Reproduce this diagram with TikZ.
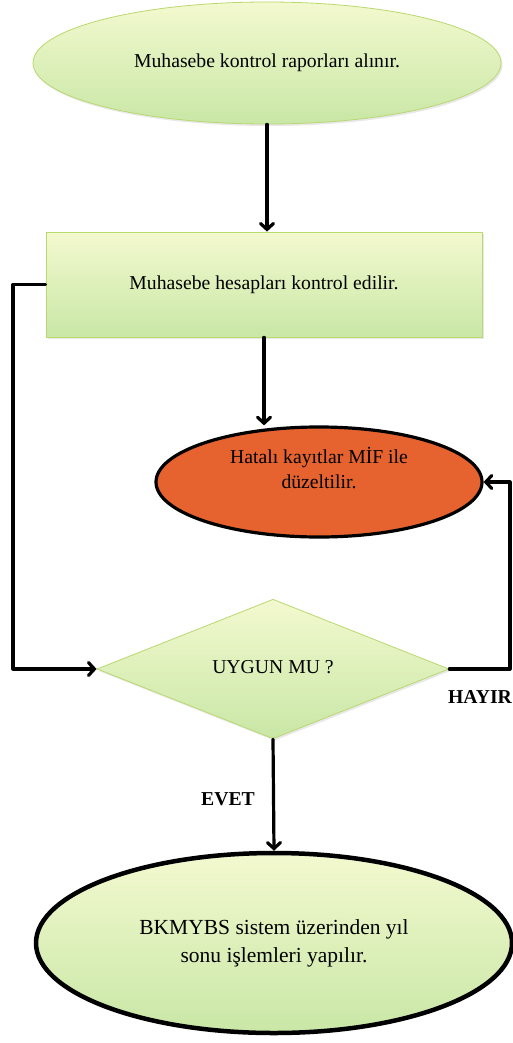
\documentclass[tikz,border=0pt]{standalone}
\usepackage{fontspec}
\setmainfont{Liberation Serif}
\usetikzlibrary{shapes.geometric,arrows.meta,shadows}

\definecolor{paleTop}{HTML}{F3F9CF}
\definecolor{paleBot}{HTML}{C9E7A6}
\definecolor{greenEdge}{HTML}{B9D86E}
\definecolor{fixOrange}{HTML}{E6622F}

\tikzset{
  txt/.style={font=\fontsize{19.7}{25}\selectfont, text=black, align=center, inner sep=0pt},
  bigtxt/.style={font=\fontsize{21.5}{28}\selectfont, text=black, align=center, inner sep=0pt},
  greenfill/.style={top color=paleTop, bottom color=paleBot, draw=greenEdge, line width=0.8pt,
    drop shadow={opacity=0.18, shadow xshift=1.5pt, shadow yshift=-2pt}},
  startnode/.style={ellipse, greenfill, txt, minimum width=468pt, minimum height=122pt},
  procbox/.style={rectangle, greenfill, txt, minimum width=436pt, minimum height=105pt},
  fixnode/.style={ellipse, fill=fixOrange, draw=black, line width=3.2pt, txt,
    minimum width=326pt, minimum height=110pt},
  decnode/.style={diamond, greenfill, txt, minimum width=352pt, minimum height=126pt},
  endnode/.style={ellipse, top color=paleTop, bottom color=paleBot, draw=black, line width=4.5pt,
    bigtxt, minimum width=476pt, minimum height=180pt},
  flow/.style={draw=black, line width=3.2pt, line cap=round, line join=round,
    -{Straight Barb[length=6pt,width=13pt,line cap=round]}},
  answer/.style={font=\fontsize{19.7}{24}\selectfont\bfseries, inner sep=0pt}
}

\begin{document}
\begin{tikzpicture}[x=1pt,y=1pt]
  % page area
  \fill[white] (0,0) rectangle (513,-1043);
  \useasboundingbox (0,0) rectangle (513,-1043);

  % shapes
  \node[startnode] (start) at (267,-63) {Muhasebe kontrol raporları alınır.};
  \node[procbox] (check) at (264,-284.5) {Muhasebe hesapları kontrol edilir.};
  \node[fixnode] (fix) at (319,-482) {Hatalı kayıtlar MİF ile\\düzeltilir.\\[4pt]};
  \node[decnode] (dec) at (273,-669) {\raisebox{5pt}{UYGUN MU ?}};
  \node[endnode] (end) at (274,-943) {BKMYBS sistem üzerinden yıl\\sonu işlemleri yapılır.};

  % answer labels
  \node[answer] (no) at (480,-697) {HAYIR};
  \node[answer] (yes) at (228,-799) {EVET};

  % loop corners
  \coordinate (lx) at (13,-284.5);
  \coordinate (rx) at (510,-669);

  % connectors
  \draw[flow] (start.south) -- (start.south |- check.north);
  \draw[flow] (check.south) -- (check.south |- fix.north);
  \draw[flow] (check.west) -- (lx) |- (dec.west);
  \draw[flow] (dec.east) -- (rx) |- (fix.east);
  \draw[flow] (dec.south) -- (end.north);
\end{tikzpicture}
\end{document}
